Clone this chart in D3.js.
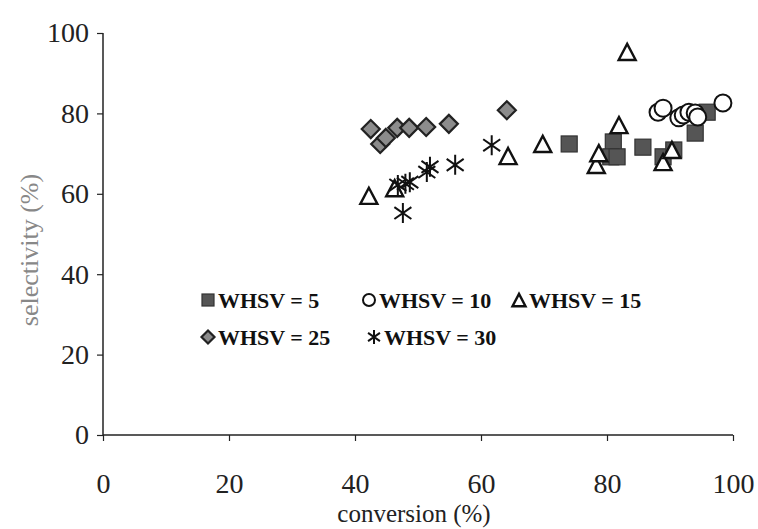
<!DOCTYPE html>
<html>
<head>
<meta charset="utf-8">
<script src="https://cdn.jsdelivr.net/npm/d3@7"></script>
<style>
html,body{margin:0;padding:0;background:#fff;}
svg{display:block;}
</style>
</head>
<body>
<svg id="chart" width="758" height="529"></svg>
<script>
const xTicks = [0, 20, 40, 60, 80, 100];
const yTicks = [0, 20, 40, 60, 80, 100];
const seriesNames = ["WHSV = 5", "WHSV = 10", "WHSV = 15", "WHSV = 25", "WHSV = 30"];
const whsv5 = [[74.0,72.4],[81.0,72.9],[80.6,69.2],[81.6,69.2],[85.7,71.6],[88.9,69.2],[90.6,70.9],[94.0,75.1],[95.9,80.3]];
const whsv10 = [[88.1,80.3],[88.9,81.3],[91.4,78.9],[92.1,79.6],[93.0,80.3],[94.0,80.1],[94.4,79.1],[98.4,82.6]];
const whsv15 = [[42.2,59.5],[46.3,61.4],[64.3,69.4],[69.8,72.4],[78.3,67.2],[78.7,70.1],[81.9,77.1],[83.2,95.3],[88.9,67.9],[90.3,70.9]];
const whsv25 = [[42.5,76.1],[44.0,72.4],[44.9,73.9],[46.7,76.4],[48.6,76.4],[51.3,76.6],[54.9,77.4],[64.1,80.8]];
const whsv30 = [[47.6,55.2],[46.8,62.2],[48.0,62.5],[48.7,62.9],[51.4,65.4],[51.9,66.7],[55.9,67.2],[61.7,72.1]];

const svg = d3.select("#chart");
const x = d3.scaleLinear().domain([0,100]).range([103,733]);
const y = d3.scaleLinear().domain([0,100]).range([435,33]);
const serif = "'Liberation Serif','Times New Roman',serif";

// axes
const xAxis = svg.append("g").attr("transform","translate(0,435)")
  .call(d3.axisBottom(x).tickValues(xTicks).tickSize(6).tickPadding(32).tickFormat(d3.format("d")));
const yAxis = svg.append("g").attr("transform","translate(103,0)")
  .call(d3.axisLeft(y).tickValues(yTicks).tickSize(6).tickPadding(8).tickFormat(d3.format("d")));
[xAxis,yAxis].forEach(a=>{
  a.select(".domain").attr("stroke","#222").attr("stroke-width",1.5);
  a.selectAll(".tick line").attr("stroke","#222").attr("stroke-width",1.2);
  a.selectAll(".tick text").attr("fill","#222").style("font-family",serif).style("font-size","28px");
});
xAxis.select(".domain").attr("d", `M${x.range()[0]},0H${x.range()[1]}`);
yAxis.select(".domain").attr("d", `M0,${y.range()[0]}V${y.range()[1]}`);

svg.append("text").attr("x",414).attr("y",522).attr("text-anchor","middle")
  .style("font-family",serif).style("font-size","25px").attr("fill","#222")
  .text("conversion (%)");
svg.append("text").attr("transform","translate(38,250) rotate(-90)").attr("text-anchor","middle")
  .style("font-family",serif).style("font-size","26px").attr("fill","#888")
  .text("selectivity (%)");

// marker drawers
function square(g, s){ g.append("rect").attr("x",-s/2).attr("y",-s/2).attr("width",s).attr("height",s).attr("fill","#555").attr("stroke","#333").attr("stroke-width",1.2); }
function circle(g, s){ g.append("circle").attr("r",s/2).attr("fill","#fff").attr("stroke","#111").attr("stroke-width",2); }
function triangle(g, s){ const h=s*0.95; g.append("path").attr("d",`M0,${-h/2}L${s/2},${h/2}L${-s/2},${h/2}Z`).attr("fill","#fff").attr("stroke","#111").attr("stroke-width",2.4).attr("stroke-linejoin","miter"); }
function diamond(g, s){ const r=s/2; g.append("path").attr("d",`M0,${-r}L${r},0L0,${r}L${-r},0Z`).attr("fill","#8c8c8c").attr("stroke","#222").attr("stroke-width",2.2); }
function asterisk(g, s){ const r=s/2, d=r*0.85; g.append("path").attr("d",`M0,${-r}V${r}M${-d},${-d*0.7}L${d},${d*0.7}M${-d},${d*0.7}L${d},${-d*0.7}`).attr("stroke","#111").attr("stroke-width",2).attr("fill","none"); }

const series = [
  {name:seriesNames[0], data:whsv5, draw:square, size:16},
  {name:seriesNames[1], data:whsv10, draw:circle, size:17},
  {name:seriesNames[2], data:whsv15, draw:triangle, size:17},
  {name:seriesNames[3], data:whsv25, draw:diamond, size:18},
  {name:seriesNames[4], data:whsv30, draw:asterisk, size:20}
];
series.forEach(s=>{
  const g = svg.append("g");
  g.selectAll("g").data(s.data).enter().append("g")
    .attr("transform", d=>`translate(${x(d[0])},${y(d[1])})`)
    .each(function(){ s.draw(d3.select(this), s.size); });
});

// legend
const legendPos = [[208,300],[369,300],[519,300],[208,337],[374,337]];
const legendSizes = [12,12,13,13,14];
series.forEach((s,i)=>{
  const [lx,ly] = legendPos[i];
  const g = svg.append("g").attr("transform",`translate(${lx},${ly})`);
  s.draw(g, legendSizes[i]);
  g.append("text").attr("x",10).attr("y",8).style("font-family",serif)
    .style("font-size","22px").style("font-weight","bold").attr("fill","#111").text(s.name);
});
</script>
</body>
</html>
